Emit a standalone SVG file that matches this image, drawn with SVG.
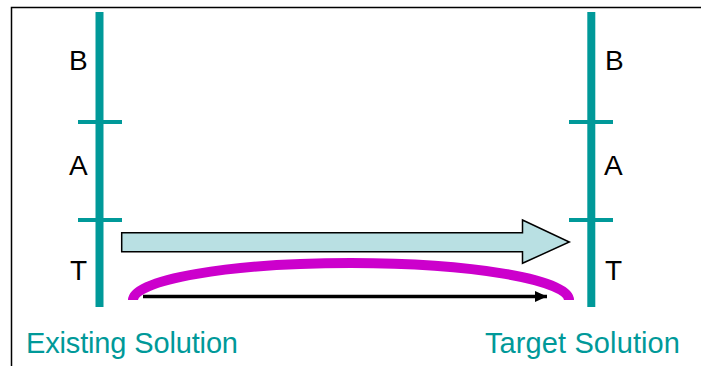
<svg xmlns="http://www.w3.org/2000/svg" width="701" height="366" viewBox="0 0 701 366">
<style>
.bar{stroke:#009999;stroke-width:8;fill:none}
.tick{stroke:#009999;stroke-width:4;fill:none}
.lbl{font-family:"Liberation Sans",Arial,sans-serif;font-size:28px;fill:#000}
.cap{font-family:"Liberation Sans",Arial,sans-serif;font-size:29px;fill:#009999}
</style>
<defs>
<marker id="ah" markerWidth="12" markerHeight="11" refX="12" refY="5.5" orient="auto" markerUnits="userSpaceOnUse">
<path d="M0,0 L12,5.5 L0,11 Z" fill="#000"/>
</marker>
</defs>
<rect x="11.5" y="7.5" width="700" height="370" fill="#fff" stroke="#000" stroke-width="1.5"/>
<g id="existing">
<line class="bar" x1="99.5" y1="12" x2="99.5" y2="307"/>
<line class="tick" x1="78" y1="122" x2="122" y2="122"/>
<line class="tick" x1="78" y1="220" x2="122" y2="220"/>
<text class="lbl" x="69" y="70">B</text>
<text class="lbl" x="69" y="175">A</text>
<text class="lbl" x="70" y="280">T</text>
<text class="cap" x="26" y="353" textLength="212">Existing Solution</text>
</g>
<g id="target">
<line class="bar" x1="591.3" y1="12" x2="591.3" y2="307"/>
<line class="tick" x1="569" y1="122" x2="613" y2="122"/>
<line class="tick" x1="569" y1="220" x2="613" y2="220"/>
<text class="lbl" x="605" y="70">B</text>
<text class="lbl" x="604" y="175">A</text>
<text class="lbl" x="605" y="280">T</text>
<text class="cap" x="485" y="353" textLength="195">Target Solution</text>
</g>
<g id="connectors">
<path d="M121.7,232.7 L522.5,232.7 L522.5,220 L569.3,242 L522.5,263.3 L522.5,251.7 L121.7,251.7 Z" fill="#B9E0E3" stroke="#000" stroke-width="1.5"/>
<path d="M133,300 A218 37 0 0 1 569,300" fill="none" stroke="#CC00CC" stroke-width="10"/>
<line x1="143" y1="296.5" x2="547" y2="296.5" stroke="#000" stroke-width="3.5" marker-end="url(#ah)"/>
</g>
</svg>
